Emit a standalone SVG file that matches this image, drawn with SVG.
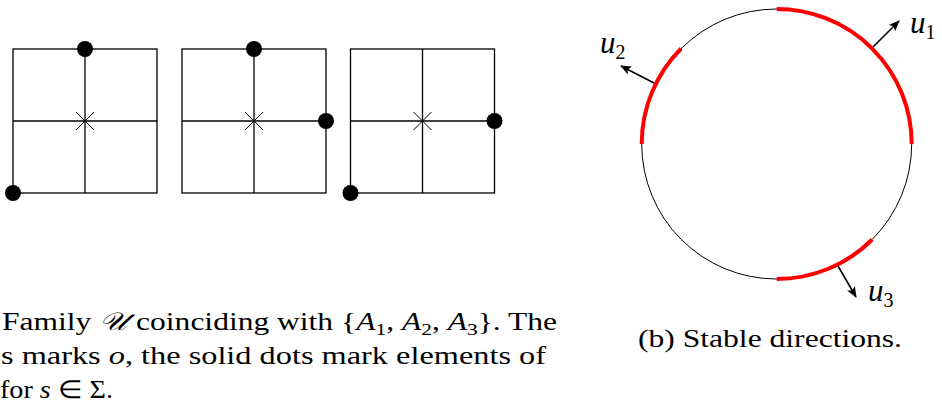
<svg xmlns="http://www.w3.org/2000/svg" width="942" height="408" viewBox="0 0 942 408">
<style>
.grid{fill:none;stroke:#000;stroke-width:1.3}
.xm{stroke:#000;stroke-width:1}
.dot{fill:#000}
.circ{fill:none;stroke:#000;stroke-width:1}
.red{fill:none;stroke:#ff0000;stroke-width:4}
.arr{stroke:#000;stroke-width:1.6;fill:none}
text{font-family:'Liberation Serif',serif;fill:#000}
.cap{font-size:25px}
.mi{font-style:italic;font-size:31px}
.sub{font-style:normal;font-size:20px}
</style>
<defs>
<marker id="ah" markerUnits="userSpaceOnUse" markerWidth="12" markerHeight="12" viewBox="0 0 12 12" refX="10" refY="6" orient="auto">
<path d="M0,1.5 L11,6 L0,10.5 L2.5,6 Z" fill="#000"/>
</marker>
</defs>
<g id="grid1">
<rect class="grid" x="13" y="49" width="144" height="144"/>
<line class="grid" x1="85" y1="49" x2="85" y2="193"/>
<line class="grid" x1="13" y1="121" x2="157" y2="121"/>
<path class="xm" d="M76,112 L94,130 M76,130 L94,112"/>
<circle class="dot" cx="85" cy="49" r="8"/>
<circle class="dot" cx="13" cy="193" r="8"/>
</g>
<g id="grid2">
<rect class="grid" x="182" y="49" width="144" height="144"/>
<line class="grid" x1="254" y1="49" x2="254" y2="193"/>
<line class="grid" x1="182" y1="121" x2="326" y2="121"/>
<path class="xm" d="M245,112 L263,130 M245,130 L263,112"/>
<circle class="dot" cx="254" cy="49" r="8"/>
<circle class="dot" cx="326" cy="121" r="8"/>
</g>
<g id="grid3">
<rect class="grid" x="350.5" y="49" width="144" height="144"/>
<line class="grid" x1="422.5" y1="49" x2="422.5" y2="193"/>
<line class="grid" x1="350.5" y1="121" x2="494.5" y2="121"/>
<path class="xm" d="M413.5,112 L431.5,130 M413.5,130 L431.5,112"/>
<circle class="dot" cx="494.5" cy="121" r="8"/>
<circle class="dot" cx="350.5" cy="193" r="8"/>
</g>
<g id="circle">
<circle class="circ" cx="776.7" cy="144" r="135"/>
<path class="red" d="M776.7,9 A135,135 0 0 1 911.7,144"/>
<path class="red" d="M681.2,48.5 A135,135 0 0 0 641.7,144"/>
<path class="red" d="M776.7,279 A135,135 0 0 0 872.2,239.5"/>
</g>
<g id="connectors">
<line class="arr" x1="873" y1="47" x2="899" y2="21" marker-end="url(#ah)"/>
<line class="arr" x1="654" y1="83" x2="621" y2="66" marker-end="url(#ah)"/>
<line class="arr" x1="838" y1="266" x2="856" y2="297" marker-end="url(#ah)"/>
</g>
<g id="labels">
<text class="mi" x="910" y="33">u<tspan class="sub" dy="6">1</tspan></text>
<text class="mi" x="600" y="53">u<tspan class="sub" dy="6">2</tspan></text>
<text class="mi" x="868" y="301">u<tspan class="sub" dy="6">3</tspan></text>
</g>
<g id="captions">
<text class="cap" x="2" y="330" textLength="555" lengthAdjust="spacingAndGlyphs">Family <tspan font-style="italic">𝒰</tspan> coinciding with {<tspan font-style="italic">A</tspan><tspan font-size="17" dy="5">1</tspan><tspan dy="-5">, </tspan><tspan font-style="italic">A</tspan><tspan font-size="17" dy="5">2</tspan><tspan dy="-5">, </tspan><tspan font-style="italic">A</tspan><tspan font-size="17" dy="5">3</tspan><tspan dy="-5">}.  The</tspan></text>
<text class="cap" x="1" y="364" textLength="545" lengthAdjust="spacingAndGlyphs">s marks <tspan font-style="italic">o</tspan>, the solid dots mark elements of</text>
<text class="cap" x="0" y="398" textLength="113" lengthAdjust="spacingAndGlyphs">for <tspan font-style="italic">s</tspan> ∈ Σ.</text>
<text class="cap" x="638" y="347" textLength="264" lengthAdjust="spacingAndGlyphs">(b) Stable directions.</text>
</g>
</svg>
